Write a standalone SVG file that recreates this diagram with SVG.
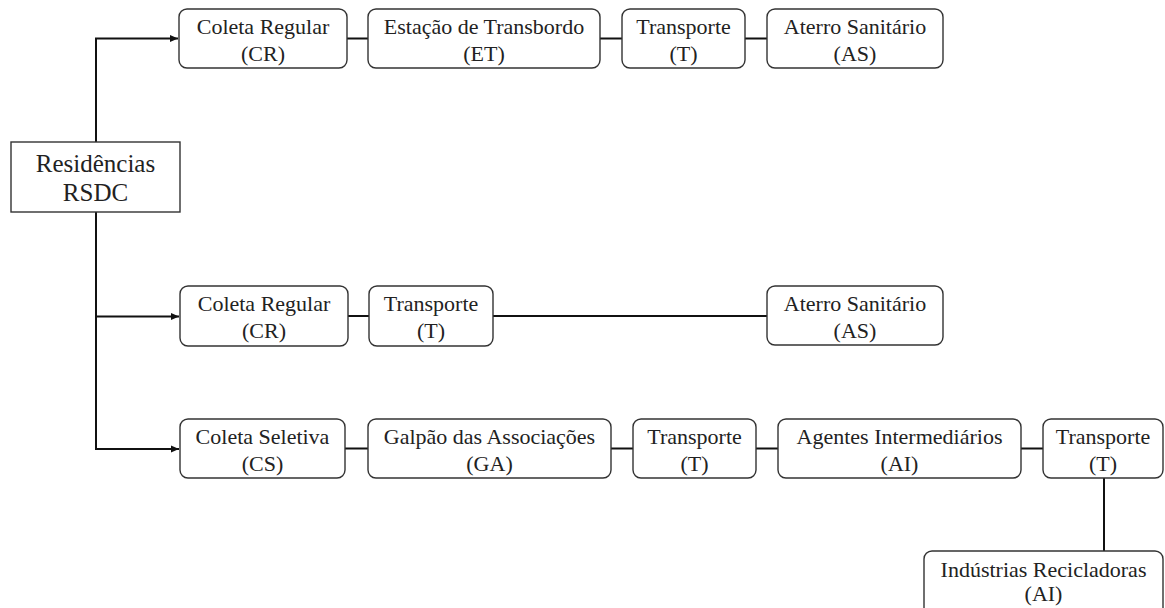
<svg xmlns="http://www.w3.org/2000/svg" width="1165" height="608" viewBox="0 0 1165 608">
<style>
.box{fill:#fff;stroke:#333;stroke-width:1.4}
text{font-family:'Liberation Serif','Times New Roman','DejaVu Serif',serif;font-size:22px;fill:#222;text-anchor:middle}
.big{font-size:25px}
.c{stroke:#111;stroke-width:2;fill:none}
</style>
<defs>
<marker id="arr" markerWidth="9" markerHeight="9" refX="8" refY="4.5" orient="auto" markerUnits="userSpaceOnUse">
<path d="M0,1 L8,4.5 L0,8 Z" fill="#111"/>
</marker>
</defs>
<rect width="1165" height="608" fill="#fff"/>
<g id="connectors">
<path class="c" d="M96,142 V38.5 H178" marker-end="url(#arr)"/>
<path class="c" d="M96,212 V449 H179" marker-end="url(#arr)"/>
<path class="c" d="M96,316.5 H179" marker-end="url(#arr)"/>
<path class="c" d="M347,38.5 H368 M600,38.5 H622 M745,38.5 H767"/>
<path class="c" d="M348,316 H369 M493,316 H767"/>
<path class="c" d="M345,448.5 H368 M611,448.5 H633 M756,448.5 H778 M1021,448.5 H1043 M1104,478 V551"/>
</g>
<g id="residencias">
<rect class="box" x="11" y="142" width="169" height="70"/>
<text class="big" x="95.5" y="172" font-family="Liberation Serif, serif">Residências</text>
<text class="big" x="95.5" y="201" font-family="Liberation Serif, serif">RSDC</text>
</g>
<g id="cr1">
<rect class="box" x="179" y="9" width="168" height="59" rx="8"/>
<text x="263" y="34">Coleta Regular</text>
<text x="263" y="61">(CR)</text>
</g>
<g id="et">
<rect class="box" x="368" y="9" width="232" height="59" rx="8"/>
<text x="484" y="34">Estação de Transbordo</text>
<text x="484" y="61">(ET)</text>
</g>
<g id="t1">
<rect class="box" x="622" y="9" width="123" height="59" rx="8"/>
<text x="683.5" y="34">Transporte</text>
<text x="683.5" y="61">(T)</text>
</g>
<g id="as1">
<rect class="box" x="767" y="9" width="176" height="59" rx="8"/>
<text x="855" y="34">Aterro Sanitário</text>
<text x="855" y="61">(AS)</text>
</g>
<g id="cr2">
<rect class="box" x="180" y="286" width="168" height="60" rx="8"/>
<text x="264" y="311">Coleta Regular</text>
<text x="264" y="338">(CR)</text>
</g>
<g id="t2">
<rect class="box" x="369" y="286" width="124" height="60" rx="8"/>
<text x="431" y="311">Transporte</text>
<text x="431" y="338">(T)</text>
</g>
<g id="as2">
<rect class="box" x="767" y="286" width="176" height="59" rx="8"/>
<text x="855" y="311">Aterro Sanitário</text>
<text x="855" y="338">(AS)</text>
</g>
<g id="cs">
<rect class="box" x="180" y="419" width="165" height="59" rx="8"/>
<text x="262.5" y="444">Coleta Seletiva</text>
<text x="262.5" y="471">(CS)</text>
</g>
<g id="ga">
<rect class="box" x="368" y="419" width="243" height="59" rx="8"/>
<text x="489.5" y="444">Galpão das Associações</text>
<text x="489.5" y="471">(GA)</text>
</g>
<g id="t3">
<rect class="box" x="633" y="419" width="123" height="59" rx="8"/>
<text x="694.5" y="444">Transporte</text>
<text x="694.5" y="471">(T)</text>
</g>
<g id="ai">
<rect class="box" x="778" y="419" width="243" height="59" rx="8"/>
<text x="899.5" y="444">Agentes Intermediários</text>
<text x="899.5" y="471">(AI)</text>
</g>
<g id="t4">
<rect class="box" x="1043" y="419" width="120" height="59" rx="8"/>
<text x="1103" y="444">Transporte</text>
<text x="1103" y="471">(T)</text>
</g>
<g id="ir">
<rect class="box" x="924" y="551" width="239" height="70" rx="8"/>
<text x="1043.5" y="577">Indústrias Recicladoras</text>
<text x="1043.5" y="601">(AI)</text>
</g>
</svg>
